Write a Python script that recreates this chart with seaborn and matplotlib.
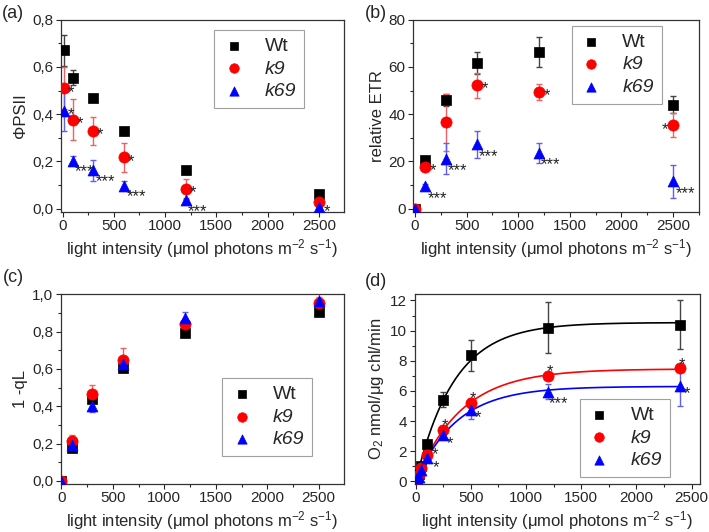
import numpy as np
import pandas as pd
import seaborn as sns
import matplotlib
matplotlib.use("Agg")
import matplotlib.pyplot as plt
from matplotlib.ticker import MultipleLocator, FuncFormatter

# ---------------- data ----------------
genotypes = ["Wt", "k9", "k69"]

# (a) PhiPSII
xa = [10, 100, 300, 600, 1200, 2500]
phi_wt = [0.67, 0.555, 0.467, 0.327, 0.162, 0.060]
phi_wt_err = [0.065, 0.03, 0.01, 0.015, 0.015, 0.005]
phi_k9 = [0.51, 0.377, 0.330, 0.217, 0.085, 0.027]
phi_k9_err = [0.09, 0.087, 0.06, 0.062, 0.04, 0.01]
phi_k69 = [0.415, 0.203, 0.163, 0.098, 0.035, 0.007]
phi_k69_err = [0.085, 0.02, 0.045, 0.02, 0.005, 0.005]
phi_k9_sig = ["*", "*", "*", "*", "*", ""]
phi_k69_sig = ["*", "***", "***", "***", "***", "*"]

# (b) relative ETR
xb = [0, 100, 300, 600, 1200, 2500]
etr_wt = [0, 20.5, 46.0, 61.5, 66.3, 44.0]
etr_wt_err = [0, 1.0, 2.5, 4.7, 6.5, 3.5]
etr_k9 = [0, 17.5, 36.5, 52.2, 49.3, 35.5]
etr_k9_err = [0, 1.0, 12.0, 5.3, 3.5, 5.0]
etr_k69 = [0, 9.5, 21.2, 27.2, 23.7, 11.5]
etr_k69_err = [0, 1.0, 6.5, 5.8, 4.3, 7.0]
etr_k9_sig = ["", "*", "", "*", "*", "*"]
etr_k69_sig = ["", "***", "***", "***", "***", "***"]

# (c) 1-qL
xc = [0, 100, 300, 600, 1200, 2500]
ql_wt = [0.0, 0.178, 0.440, 0.605, 0.790, 0.905]
ql_wt_err = [0, 0.01, 0.01, 0.015, 0.01, 0.01]
ql_k9 = [0.0, 0.215, 0.467, 0.650, 0.843, 0.953]
ql_k9_err = [0, 0.03, 0.045, 0.06, 0.03, 0.03]
ql_k69 = [0.0, 0.190, 0.400, 0.625, 0.872, 0.965]
ql_k69_err = [0, 0.02, 0.03, 0.03, 0.035, 0.04]

# (d) O2 evolution
xd = [10, 25, 50, 100, 250, 500, 1200, 2400]
o2_wt = [0.3, 0.5, 1.0, 2.45, 5.4, 8.35, 10.2, 10.4]
o2_wt_err = [0.1, 0.15, 0.2, 0.3, 0.5, 1.0, 1.7, 1.65]
o2_k9 = [0.25, 0.4, 0.9, 1.75, 3.4, 5.2, 7.0, 7.5]
o2_k9_err = [0.1, 0.1, 0.2, 0.3, 0.3, 0.3, 0.2, 0.2]
o2_k69 = [0.2, 0.3, 0.75, 1.55, 3.05, 4.75, 5.95, 6.35]
o2_k69_err = [0.1, 0.1, 0.15, 0.2, 0.2, 0.6, 0.5, 1.35]
o2_k9_sig = ["", "", "", "*", "*", "*", "*", "*"]
o2_k69_sig = ["", "", "", "*", "*", "*", "***", "*"]

# ---------------- style ----------------
sns.set_style("ticks")
plt.rcParams["font.family"] = ["Liberation Sans", "DejaVu Sans"]
plt.rcParams["mathtext.fontset"] = "custom"
plt.rcParams["mathtext.rm"] = "Liberation Sans"
plt.rcParams["mathtext.it"] = "Liberation Sans:italic"

colors = {"Wt": "#000000", "k9": "#ff0000", "k69": "#0000ff"}
ecolors = {"Wt": "#444444", "k9": "#f06060", "k69": "#6060f0"}
markers = {"Wt": "s", "k9": "o", "k69": "^"}
msize = {"Wt": 45, "k9": 65, "k69": 62}
STAR_FS = 12

xlabel = r"light intensity ($\mathrm{\mu}$mol photons m$^{-2}$ s$^{-1}$)"
comma = FuncFormatter(lambda v, p: ("%.1f" % v).replace(".", ","))

fig = plt.figure(figsize=(7.09, 5.32), dpi=100)
ax_a = fig.add_axes([0.086, 0.602, 0.399, 0.361])
ax_b = fig.add_axes([0.583, 0.602, 0.403, 0.361])
ax_c = fig.add_axes([0.086, 0.091, 0.399, 0.356])
ax_d = fig.add_axes([0.585, 0.091, 0.402, 0.357])


def draw(ax, x, series, errs):
    for g, y, e in zip(genotypes, series, errs):
        ax.errorbar(x, y, yerr=e, fmt="none", ecolor=ecolors[g], elinewidth=1,
                    capsize=2.5, capthick=1, zorder=2)
        df = pd.DataFrame({"x": x, "y": y})
        sns.scatterplot(data=df, x="x", y="y", ax=ax, marker=markers[g], s=msize[g],
                        color=colors[g], edgecolor=colors[g], linewidth=0.5,
                        zorder=3, label=g)


def stars(ax, x, y, sig, one=(7, 0), three=(12, -7), idx=None):
    # offsets are in pixels: (right, up) of the star centre from the point
    for i, (xi, yi, s) in enumerate(zip(x, y, sig)):
        if not s or (idx is not None and i not in idx):
            continue
        dx, du = one if s == "*" else three
        ax.annotate(s, (xi, yi), xytext=(dx / 1.389, du / 1.389 - 0.57 * STAR_FS),
                    textcoords="offset points", ha="center", va="baseline",
                    fontsize=STAR_FS, color="#222222", zorder=4)


def finish(ax, ylabel, xlim, ylim, ymaj, ymin, xmaj, xmin, fmt=None):
    ax.set_xlim(*xlim)
    ax.set_ylim(*ylim)
    ax.xaxis.set_major_locator(MultipleLocator(xmaj))
    ax.xaxis.set_minor_locator(MultipleLocator(xmin))
    ax.yaxis.set_major_locator(MultipleLocator(ymaj))
    ax.yaxis.set_minor_locator(MultipleLocator(ymin))
    if fmt is not None:
        ax.yaxis.set_major_formatter(fmt)
    ax.tick_params(which="major", length=3.5, width=0.8, labelsize=11, direction="out", pad=2)
    ax.tick_params(which="minor", length=2, width=0.8, direction="out")
    for sp in ax.spines.values():
        sp.set_visible(True)
        sp.set_linewidth(0.9)
        sp.set_color("#333333")
    ax.set_xlabel(xlabel, fontsize=12, labelpad=3)
    ax.set_ylabel(ylabel, fontsize=12, labelpad=3)


def legend(ax, loc, anchor):
    leg = ax.legend(loc=loc, bbox_to_anchor=anchor, borderaxespad=0, fontsize=14,
                    frameon=True, fancybox=False, edgecolor="#888888",
                    handletextpad=1.0, labelspacing=0.25, borderpad=0.4,
                    handlelength=1.2, markerscale=0.85)
    leg.get_frame().set_linewidth(0.8)
    for t in leg.get_texts()[1:]:
        t.set_style("italic")


# (a)
draw(ax_a, xa, [phi_wt, phi_k9, phi_k69], [phi_wt_err, phi_k9_err, phi_k69_err])
stars(ax_a, xa, phi_k9, phi_k9_sig, one=(7, 1))
stars(ax_a, xa, phi_k69, phi_k69_sig, one=(7, 1), idx=[0])
stars(ax_a, xa, phi_k69, phi_k69_sig, three=(12, -6), idx=[1, 2, 3, 4])
stars(ax_a, xa, phi_k69, phi_k69_sig, one=(8, 0), idx=[5])
finish(ax_a, "ΦPSII", (-15, 2745), (-0.013, 0.8), 0.2, 0.1, 500, 250, comma)
legend(ax_a, "upper right", (0.859, 0.948))

# (b)
draw(ax_b, xb, [etr_wt, etr_k9, etr_k69], [etr_wt_err, etr_k9_err, etr_k69_err])
stars(ax_b, xb, etr_k9, etr_k9_sig, one=(8, 2), idx=[1, 2, 3, 4])
stars(ax_b, xb, etr_k9, etr_k9_sig, one=(-8, 0), idx=[5])
stars(ax_b, xb, etr_k69, etr_k69_sig, three=(12, -7))
finish(ax_b, "relative ETR", (-16, 2752), (-1.3, 80), 20, 10, 500, 250)
legend(ax_b, "upper right", (0.869, 0.969))

# (c)
draw(ax_c, xc, [ql_wt, ql_k9, ql_k69], [ql_wt_err, ql_k9_err, ql_k69_err])
finish(ax_c, "1 -qL", (-5, 2745), (-0.014, 1.0), 0.2, 0.1, 500, 250, comma)
legend(ax_c, "lower right", (0.887, 0.146))

# (d) fitted saturation curves through the data
xfit = np.linspace(0, 2400, 300)
for g, y in zip(genotypes, [o2_wt, o2_k9, o2_k69]):
    xs = np.array(xd, float)
    ys = np.array(y, float)
    best = None
    for ik in np.linspace(50, 1000, 400):
        f = 1 - np.exp(-xs / ik)
        pm = (f @ ys) / (f @ f)
        r = np.sum((ys - pm * f) ** 2)
        if best is None or r < best[0]:
            best = (r, ik, pm)
    _, ik, pm = best
    fit = pd.DataFrame({"x": xfit, "y": pm * (1 - np.exp(-xfit / ik))})
    sns.lineplot(data=fit, x="x", y="y", ax=ax_d, color=colors[g], linewidth=1.2, zorder=1)
draw(ax_d, xd, [o2_wt, o2_k9, o2_k69], [o2_wt_err, o2_k9_err, o2_k69_err])
stars(ax_d, xd, o2_k9, o2_k9_sig, one=(8, 5), idx=[3])
stars(ax_d, xd, o2_k9, o2_k9_sig, one=(2, 9), idx=[4, 5, 6, 7])
stars(ax_d, xd, o2_k69, o2_k69_sig, one=(9, -5), idx=[3])
stars(ax_d, xd, o2_k69, o2_k69_sig, one=(7, -3), three=(10, -7), idx=[4, 5, 6, 7])
finish(ax_d, r"O$_2$ nmol/$\mathrm{\mu}$g chl/min", (-9, 2575), (-0.15, 12.45), 2, 1, 500, 250)
legend(ax_d, "lower right", (0.895, 0.036))

# panel letters
for lab, (px, py) in zip(["(a)", "(b)", "(c)", "(d)"],
                         [(2, 14), (365, 14), (3, 278), (365, 281)]):
    fig.text(px / 709, 1 - py / 532, lab, fontsize=13, va="center", ha="left")

fig.savefig("out.png", dpi=100)
